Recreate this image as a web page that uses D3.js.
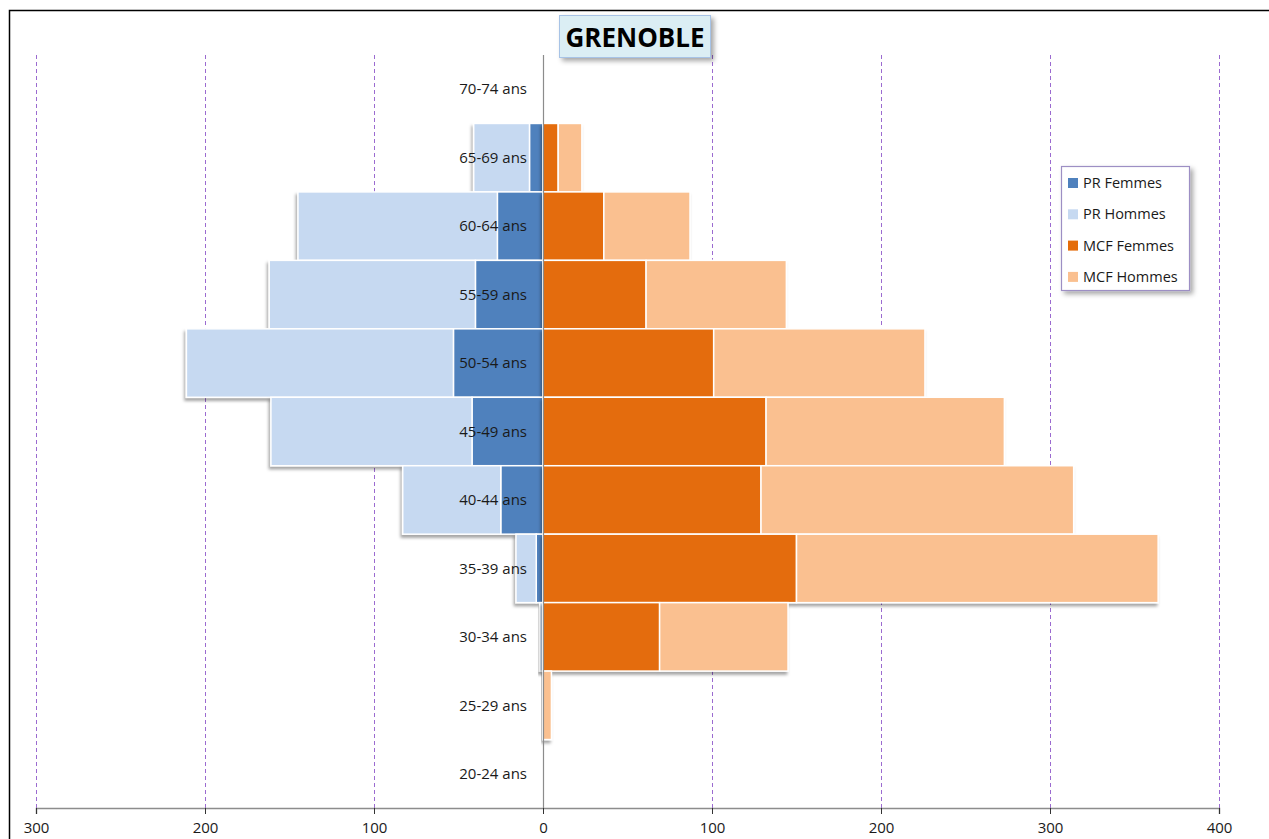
<!DOCTYPE html>
<html>
<head>
<meta charset="utf-8">
<script src="https://cdn.jsdelivr.net/npm/d3@7"></script>
<style>
  body { margin: 0; background: #fff; }
  svg { font-family: "Open Sans", sans-serif; }
</style>
</head>
<body>
<svg id="chart"></svg>
<script>
// Age groups, top to bottom
const ageGroups = ["70-74 ans", "65-69 ans", "60-64 ans", "55-59 ans", "50-54 ans", "45-49 ans",
                   "40-44 ans", "35-39 ans", "30-34 ans", "25-29 ans", "20-24 ans"];
// Series values (drawn left for PR, right for MCF)
const prFemmes  = [0, 8, 27, 40, 53, 42, 25, 4, 0, 0, 0];
const prHommes  = [0, 33, 118, 122, 158, 119, 58, 12, 2, 0, 0];
const mcfFemmes = [0, 9, 36, 61, 101, 132, 129, 150, 69, 0, 0];
const mcfHommes = [0, 14, 51, 83, 125, 141, 185, 214, 76, 5, 0];
const xTicks = [-300, -200, -100, 0, 100, 200, 300, 400];
const seriesNames = ["PR Femmes", "PR Hommes", "MCF Femmes", "MCF Hommes"];
const seriesColors = ["#4F81BD", "#C6D9F1", "#E46C0A", "#FAC090"];

const width = 1269, height = 839;
const svg = d3.select("#chart").attr("width", width).attr("height", height);

// Shadow filters for bars and boxes
const defs = svg.append("defs");
const shadow = defs.append("filter").attr("id", "shadow")
    .attr("x", "-20%").attr("y", "-20%").attr("width", "140%").attr("height", "140%");
shadow.append("feDropShadow").attr("dx", -1.5).attr("dy", 3).attr("stdDeviation", 1.5)
    .attr("flood-color", "#000").attr("flood-opacity", 0.35);
const boxShadow = defs.append("filter").attr("id", "boxShadow")
    .attr("x", "-20%").attr("y", "-20%").attr("width", "140%").attr("height", "140%");
boxShadow.append("feDropShadow").attr("dx", 3).attr("dy", 3).attr("stdDeviation", 2.5)
    .attr("flood-color", "#000").attr("flood-opacity", 0.35);

// Outer frame
svg.append("rect").attr("x", 9.5).attr("y", 10.5).attr("width", 1280).attr("height", 850)
    .attr("fill", "none").attr("stroke", "#000").attr("stroke-width", 1.5);

// Scales
const x = d3.scaleLinear().domain([-300, 400]).range([36, 1219]);
const y = d3.scaleBand().domain(ageGroups).range([55, 808]).padding(0);

// Dashed vertical gridlines
svg.append("g").selectAll("line")
    .data(xTicks.filter(d => d !== 0))
    .join("line")
    .attr("x1", d => Math.round(x(d)) + 0.5).attr("x2", d => Math.round(x(d)) + 0.5)
    .attr("y1", 55).attr("y2", 808)
    .attr("stroke", "#9B6BD0").attr("stroke-width", 1)
    .attr("stroke-dasharray", "4,3");

// One group per row and side, so the shadow falls under the whole stacked bar
const rows = [];
ageGroups.forEach((g, i) => {
    rows.push({ g, segs: [
        { s: 0, x0: -prFemmes[i], x1: 0 },
        { s: 1, x0: -prFemmes[i] - prHommes[i], x1: -prFemmes[i] }] });
    rows.push({ g, segs: [
        { s: 2, x0: 0, x1: mcfFemmes[i] },
        { s: 3, x0: mcfFemmes[i], x1: mcfFemmes[i] + mcfHommes[i] }] });
});

svg.append("g").selectAll("g")
    .data(rows)
    .join("g")
    .attr("filter", "url(#shadow)")
    .selectAll("rect")
    .data(d => d.segs.filter(s => s.x1 - s.x0 > 0).map(s => ({ ...s, g: d.g })))
    .join("rect")
    .attr("x", d => x(d.x0))
    .attr("y", d => y(d.g))
    .attr("width", d => x(d.x1) - x(d.x0))
    .attr("height", y.bandwidth())
    .attr("fill", d => seriesColors[d.s])
    .attr("stroke", "#fff").attr("stroke-width", 1.5);

// Category axis line (at zero)
svg.append("line")
    .attr("x1", x(0) + 0.5).attr("x2", x(0) + 0.5)
    .attr("y1", 55).attr("y2", 808)
    .attr("stroke", "#8c8c8c").attr("stroke-width", 1.2);

// Category labels
svg.append("g").selectAll("text")
    .data(ageGroups)
    .join("text")
    .attr("x", 527)
    .attr("y", d => y(d) + y.bandwidth() / 2)
    .attr("dy", "0.35em")
    .attr("text-anchor", "end")
    .attr("font-size", 15)
    .attr("fill", "#1a1a1a")
    .text(d => d);

// Bottom axis
const xAxis = d3.axisBottom(x).tickValues(xTicks).tickSize(6).tickPadding(8)
    .tickFormat(d => Math.abs(d));
const ax = svg.append("g").attr("transform", "translate(0,808)").call(xAxis);
ax.select(".domain").attr("stroke", "#8c8c8c").attr("stroke-width", 1.5);
ax.selectAll(".tick line").attr("stroke", "#333");
ax.selectAll(".tick text").attr("font-size", 15).attr("fill", "#1a1a1a")
    .attr("font-family", "Open Sans, sans-serif");

// Title box
const title = svg.append("g");
title.append("rect").attr("x", 559.5).attr("y", 15.5).attr("width", 151).attr("height", 42)
    .attr("fill", "#DBEEF4").attr("stroke", "#A7C3E6").attr("stroke-width", 1)
    .attr("filter", "url(#boxShadow)");
title.append("text").attr("x", 635).attr("y", 47)
    .attr("text-anchor", "middle").attr("font-size", 26).attr("font-weight", "bold")
    .attr("fill", "#000").text("GRENOBLE");

// Legend
const legend = svg.append("g");
legend.append("rect").attr("x", 1061.5).attr("y", 166.5).attr("width", 128).attr("height", 124)
    .attr("fill", "#fff").attr("stroke", "#9D8FC4").attr("stroke-width", 1.2)
    .attr("filter", "url(#boxShadow)");
const items = legend.selectAll("g.item")
    .data(seriesNames)
    .join("g").attr("class", "item")
    .attr("transform", (d, i) => `translate(1068,${183 + i * 31.3})`);
items.append("rect").attr("x", 0).attr("y", -5).attr("width", 10).attr("height", 10)
    .attr("fill", (d, i) => seriesColors[i]);
items.append("text").attr("x", 15).attr("dy", "0.35em")
    .attr("font-size", 14.5).attr("fill", "#1a1a1a").text(d => d);
</script>
</body>
</html>
